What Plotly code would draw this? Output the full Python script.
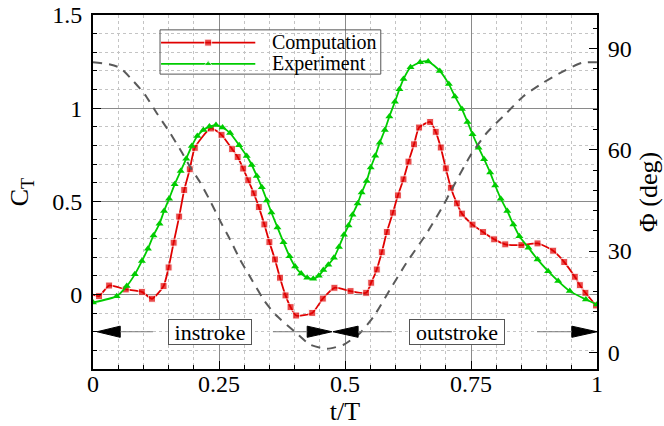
import plotly.graph_objects as go

# Thrust coefficient, computation (t/T, C_T)
comp_t = [0.000, 0.012, 0.032, 0.065, 0.097, 0.117, 0.140, 0.150, 0.160, 0.171,
          0.181, 0.192, 0.202, 0.234, 0.255, 0.276, 0.287, 0.298, 0.308, 0.319,
          0.329, 0.340, 0.350, 0.361, 0.371, 0.382, 0.392, 0.403, 0.435, 0.456,
          0.479, 0.511, 0.542, 0.552, 0.563, 0.573, 0.583, 0.595, 0.605, 0.616,
          0.626, 0.637, 0.647, 0.669, 0.680, 0.690, 0.700, 0.710, 0.722, 0.732,
          0.753, 0.774, 0.796, 0.818, 0.850, 0.882, 0.913, 0.935, 0.956, 0.966,
          0.977, 0.998]
comp_ct = [0.000, -0.009, 0.048, 0.027, 0.014, -0.023, 0.045, 0.145, 0.278, 0.418,
           0.561, 0.672, 0.787, 0.891, 0.857, 0.780, 0.738, 0.676, 0.613, 0.543,
           0.469, 0.376, 0.281, 0.188, 0.090, -0.005, -0.068, -0.113, -0.099, -0.022,
           0.036, 0.018, 0.009, 0.063, 0.134, 0.227, 0.335, 0.439, 0.532, 0.618,
           0.713, 0.806, 0.896, 0.926, 0.873, 0.789, 0.677, 0.573, 0.489, 0.434,
           0.375, 0.335, 0.296, 0.269, 0.265, 0.274, 0.235, 0.174, 0.095, 0.050,
           0.009, -0.059]

# Thrust coefficient, experiment (t/T, C_T)
exp_t = [0.000, 0.047, 0.067, 0.083, 0.097, 0.109, 0.120, 0.132, 0.141, 0.151,
         0.162, 0.174, 0.185, 0.196, 0.207, 0.219, 0.231, 0.244, 0.257, 0.272,
         0.290, 0.305, 0.315, 0.325, 0.335, 0.345, 0.354, 0.366, 0.378, 0.390,
         0.401, 0.413, 0.425, 0.437, 0.448, 0.457, 0.467, 0.478, 0.488, 0.498,
         0.507, 0.515, 0.525, 0.533, 0.543, 0.551, 0.560, 0.569, 0.579, 0.588,
         0.599, 0.608, 0.616, 0.630, 0.649, 0.665, 0.688, 0.706, 0.718, 0.732,
         0.743, 0.753, 0.765, 0.776, 0.788, 0.798, 0.809, 0.822, 0.834, 0.846,
         0.864, 0.882, 0.903, 0.923, 0.946, 0.978, 1.000]
exp_ct = [-0.043, -0.009, 0.045, 0.108, 0.179, 0.246, 0.317, 0.380, 0.448, 0.514,
          0.591, 0.663, 0.729, 0.797, 0.851, 0.883, 0.901, 0.909, 0.896, 0.866,
          0.801, 0.743, 0.695, 0.636, 0.575, 0.505, 0.440, 0.360, 0.280, 0.205,
          0.150, 0.112, 0.090, 0.084, 0.100, 0.131, 0.160, 0.197, 0.255, 0.320,
          0.370, 0.428, 0.488, 0.547, 0.609, 0.681, 0.744, 0.815, 0.883, 0.955,
          1.034, 1.102, 1.156, 1.219, 1.246, 1.251, 1.200, 1.129, 1.063, 0.995,
          0.926, 0.860, 0.788, 0.726, 0.654, 0.585, 0.514, 0.448, 0.376, 0.313,
          0.251, 0.188, 0.125, 0.072, 0.018, -0.027, -0.054]

# Feathering angle Phi (deg)
phi_t = [0.000, 0.034, 0.054, 0.080, 0.103, 0.126, 0.153, 0.173, 0.192, 0.212,
         0.232, 0.252, 0.272, 0.292, 0.315, 0.341, 0.363, 0.403, 0.431, 0.464,
         0.497, 0.530, 0.557, 0.589, 0.622, 0.661, 0.695, 0.708, 0.748, 0.781,
         0.821, 0.854, 0.893, 0.933, 0.970, 1.000]
phi_deg = [86.0, 85.3, 84.3, 80.4, 76.4, 71.0, 65.0, 60.1, 55.1, 50.5,
           45.0, 39.0, 33.4, 27.4, 21.5, 15.0, 11.0, 5.7, 2.2, 1.0,
           2.2, 5.7, 10.6, 18.5, 26.5, 35.0, 43.5, 47.2, 58.1, 65.0,
           71.0, 75.9, 79.9, 83.3, 85.8, 86.0]

x_ticks = [0, 0.25, 0.5, 0.75, 1]
x_labels = ["0", "0.25", "0.5", "0.75", "1"]
ct_ticks = [0, 0.5, 1, 1.5]
ct_labels = ["0", "0.5", "1", "1.5"]
phi_ticks = [0, 30, 60, 90]
phi_labels = ["0", "30", "60", "90"]

series_names = ["Computation", "Experiment"]
stroke_names = ["instroke", "outstroke"]
stroke_level = -0.2

RED = "#e00000"
GREEN = "#00cc00"
FONT = "Liberation Serif"

fig = go.Figure()

fig.add_trace(go.Scatter(
    x=phi_t, y=phi_deg, yaxis="y2", mode="lines",
    line=dict(color="#5a5a5a", width=2, dash="9px,7px", shape="spline", smoothing=0.6),
    showlegend=False, hoverinfo="skip"))

comp_sizes = [0] + [7] * (len(comp_t) - 1)
fig.add_trace(go.Scatter(
    x=comp_t, y=comp_ct, mode="lines+markers", name=series_names[0],
    line=dict(color=RED, width=1.8, shape="spline", smoothing=0.6),
    marker=dict(symbol="square", size=comp_sizes, color=RED),
    showlegend=False))

fig.add_trace(go.Scatter(
    x=exp_t, y=exp_ct, mode="lines+markers", name=series_names[1],
    line=dict(color=GREEN, width=1.8, shape="spline", smoothing=0.6),
    marker=dict(symbol="triangle-up", size=7, color=GREEN),
    showlegend=False))

# Legend panel drawn on an auxiliary unit-square axis pair
leg_x0, leg_x1 = 0.133, 0.571
leg_rows = [0.922, 0.862]
leg_line = (0.135, 0.322)
for name, color, sym, yy in [(series_names[0], RED, "square", leg_rows[0]),
                             (series_names[1], GREEN, "triangle-up", leg_rows[1])]:
    fig.add_trace(go.Scatter(
        x=[leg_line[0], (leg_line[0] + leg_line[1]) / 2, leg_line[1]], y=[yy, yy, yy],
        xaxis="x3", yaxis="y3", mode="lines+markers",
        line=dict(color=color, width=1.8),
        marker=dict(symbol=sym, size=[0, 7, 0], color=color),
        showlegend=False, hoverinfo="skip"))
    fig.add_annotation(x=0.352, y=yy, xref="x3", yref="y3", text=name,
                       showarrow=False, xanchor="left", yanchor="middle",
                       font=dict(family=FONT, size=20, color="black"))
fig.add_shape(type="rect", xref="x3", yref="y3", x0=leg_x0, x1=leg_x1,
              y0=0.833, y1=0.958, line=dict(color="#555555", width=1),
              fillcolor="rgba(255,255,255,0)", layer="above")

# Stroke arrows
head_h = 0.03
line_style = dict(color="#7a7a7a", width=1)
arrow_specs = [
    # (tip, base, line_end)
    (0.008, 0.054, 0.119),
    (0.474, 0.425, 0.357),
    (0.476, 0.526, 0.593),
    (1.0, 0.950, 0.881),
]
for tip, base, lend in arrow_specs:
    fig.add_shape(type="path", xref="x", yref="y",
                  path=f"M {tip},{stroke_level} L {base},{stroke_level + head_h} "
                       f"L {base},{stroke_level - head_h} Z",
                  fillcolor="black", line=dict(color="black", width=1))
    fig.add_shape(type="line", xref="x", yref="y", x0=base, x1=lend,
                  y0=stroke_level, y1=stroke_level, line=line_style)

label_centers = [0.232, 0.722]
label_widths = [80, 92]
for text, cx, w in zip(stroke_names, label_centers, label_widths):
    fig.add_annotation(x=cx, y=stroke_level, xref="x", yref="y", text=text,
                       showarrow=False, bgcolor="white", bordercolor="#555555",
                       borderwidth=1, borderpad=1, width=w, height=22,
                       font=dict(family=FONT, size=22, color="black"))

axis_common = dict(showline=True, linecolor="black", linewidth=2,
                   ticks="inside", tickcolor="black", ticklen=8, tickwidth=1,
                   zeroline=False, automargin=False,
                   tickfont=dict(family=FONT, size=24, color="black"))

fig.update_layout(
    width=664, height=426,
    margin=dict(l=93, r=67, t=15, b=57, autoexpand=False),
    paper_bgcolor="white", plot_bgcolor="white",
    showlegend=False,
    xaxis=dict(range=[0, 1], tickmode="array", tickvals=x_ticks, ticktext=x_labels,
               mirror=True, showgrid=True, gridcolor="#8a8a8a", gridwidth=1,
               minor=dict(dtick=0.05, tick0=0, showgrid=True, gridcolor="#c4c4c4",
                          griddash="dot", gridwidth=1, ticks="inside", ticklen=4,
                          tickcolor="black"),
               ticklabelstandoff=-8,
               title=dict(text="t/T", font=dict(family=FONT, size=26, color="black"),
                          standoff=0),
               **axis_common),
    yaxis=dict(range=[-0.4, 1.5], tickmode="array", tickvals=ct_ticks, ticktext=ct_labels,
               showgrid=True, gridcolor="#8a8a8a", gridwidth=1,
               minor=dict(dtick=0.1, tick0=0, showgrid=True, gridcolor="#c4c4c4",
                          griddash="dot", gridwidth=1, ticks="inside", ticklen=4,
                          tickcolor="black"),
               ticklabelstandoff=4,
               title=dict(text="C<sub>T</sub>", font=dict(family=FONT, size=26, color="black"),
                          standoff=16),
               **axis_common),
    yaxis2=dict(range=[-5, 100], overlaying="y", side="right", tickmode="array",
                tickvals=phi_ticks, ticktext=phi_labels, showgrid=False,
                minor=dict(dtick=6, tick0=0, ticks="inside", ticklen=4, tickcolor="black"),
                ticklabelstandoff=4,
                title=dict(text="Φ (deg)", font=dict(family=FONT, size=26, color="black"),
                           standoff=8),
                **axis_common),
    xaxis3=dict(range=[0, 1], overlaying="x", visible=False, fixedrange=True),
    yaxis3=dict(range=[0, 1], overlaying="y", visible=False, fixedrange=True),
)

fig.write_html("out.html")
